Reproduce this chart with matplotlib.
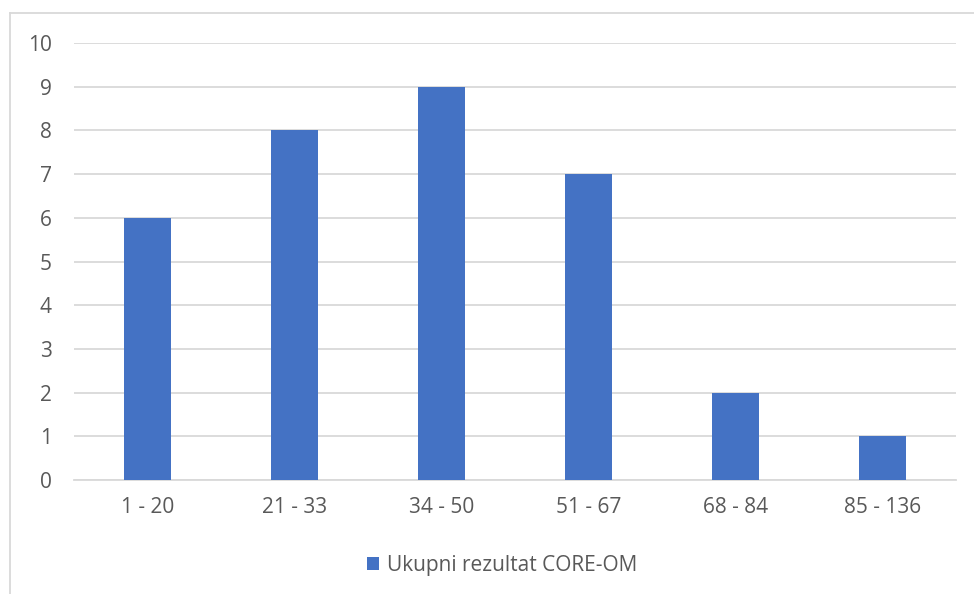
import matplotlib
matplotlib.use("Agg")
import matplotlib.pyplot as plt
from matplotlib.lines import Line2D
from matplotlib.patches import Patch

categories = ["1 - 20", "21 - 33", "34 - 50", "51 - 67", "68 - 84", "85 - 136"]
values = [6, 8, 9, 7, 2, 1]
series_name = "Ukupni rezultat CORE-OM"
yticks = list(range(0, 11))

W, H = 974, 594
fig = plt.figure(figsize=(W / 100, H / 100), dpi=100)
plt.rcParams['font.family'] = ['Open Sans', 'DejaVu Sans']

ax = fig.add_axes([74 / W, 1 - 480 / H, (956 - 74) / W, (480 - 43) / H])
bar_color = "#4472C4"
text_color = "#595959"
grid_color = "#D9D9D9"
fs = 15

x = list(range(len(categories)))
ax.bar(x, values, width=0.32, color=bar_color, zorder=3)
ax.set_xlim(-0.5, len(categories) - 0.5)
ax.set_ylim(0, 10)
ax.set_yticks(yticks)
ax.set_xticks(x)
ax.set_xticklabels(categories)
ax.yaxis.grid(True, color=grid_color, linewidth=1.3, zorder=0)
ax.set_axisbelow(True)
for s in ["top", "right", "left"]:
    ax.spines[s].set_visible(False)
ax.spines["bottom"].set_color(grid_color)
ax.spines["bottom"].set_linewidth(1.3)
ax.tick_params(axis="both", length=0, labelsize=fs, colors=text_color)
ax.tick_params(axis="y", pad=16)
ax.tick_params(axis="x", pad=12)

# legend
handles = [Patch(facecolor=bar_color, edgecolor="none", label=series_name)]
fig.legend(handles=handles, loc="center", bbox_to_anchor=(502 / W, 1 - 565 / H),
           frameon=False, fontsize=fs, labelcolor=text_color,
           handlelength=0.6, handleheight=0.6, handletextpad=0.35)

# outer chart border (left and top visible)
fig.add_artist(Line2D([10 / W, 10 / W], [1 - 13 / H, 0], color=grid_color, linewidth=1.3))
fig.add_artist(Line2D([10 / W, 1], [1 - 13 / H, 1 - 13 / H], color=grid_color, linewidth=1.3))

fig.savefig("out.png", dpi=100)
